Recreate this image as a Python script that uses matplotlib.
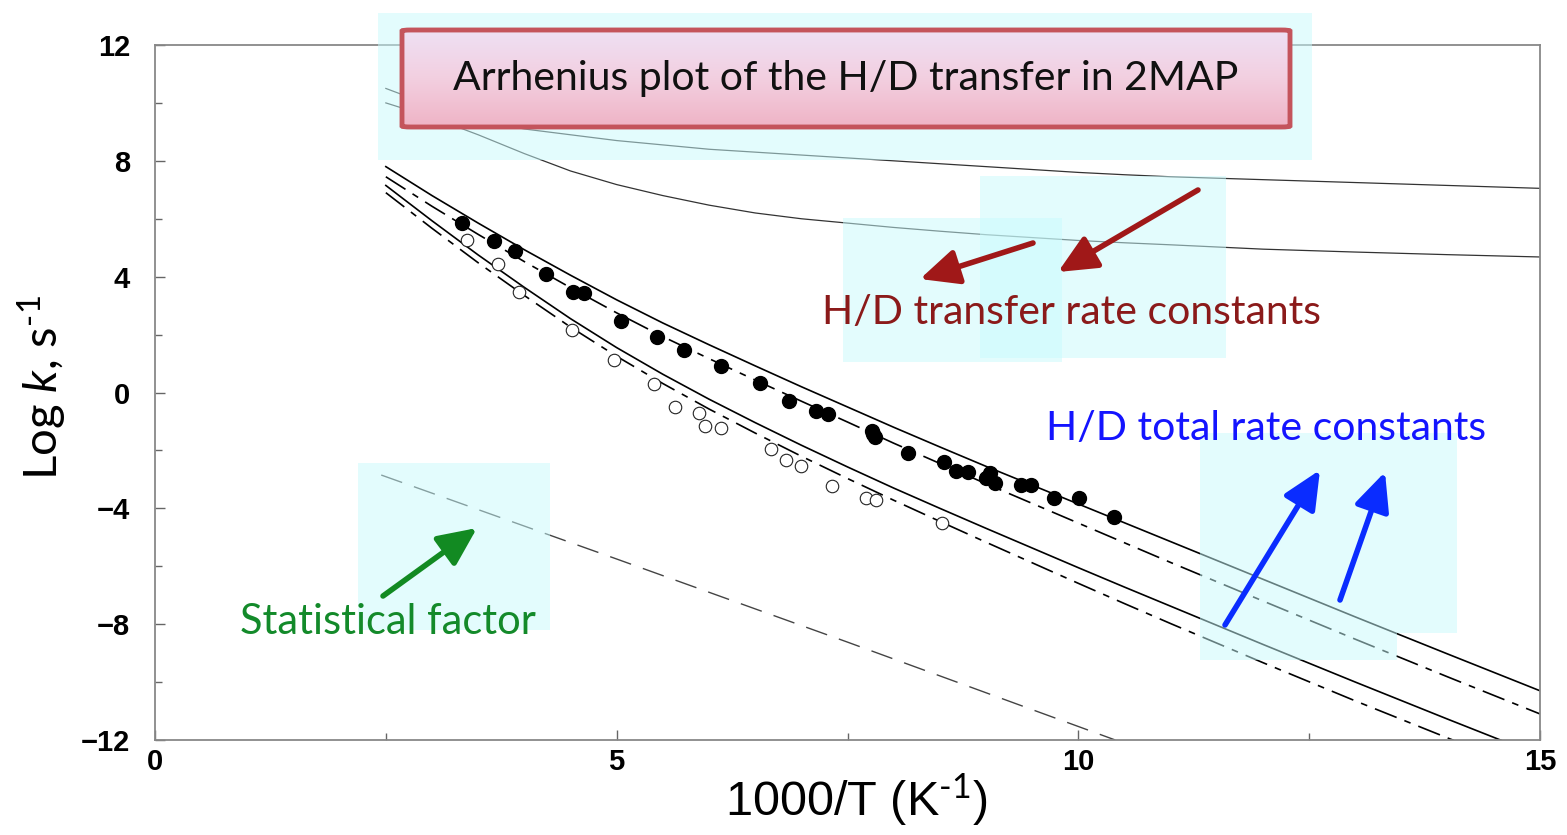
import matplotlib
matplotlib.use('Agg')
import numpy as np
import matplotlib.pyplot as plt
from matplotlib.patches import Rectangle, FancyBboxPatch, FancyArrowPatch
from matplotlib.colors import LinearSegmentedColormap
from matplotlib.ticker import MultipleLocator

plt.rcParams['mathtext.fontset'] = 'custom'
plt.rcParams['mathtext.rm'] = 'Lato'
plt.rcParams['mathtext.it'] = 'Lato:italic'

# x grid (1000/T) for the calculated curves
x_curve = [2.5, 3.0, 3.5, 4.0, 4.5, 5.0, 5.5, 6.0, 6.5, 7.0, 7.5, 8.0, 8.5,
           9.0, 9.5, 10.0, 10.5, 11.0, 12.0, 13.0, 14.0, 15.0]

# H/D transfer rate constants (top two curves)
transfer_h = [10.5, 9.9, 9.4, 9.1, 8.9, 8.7, 8.55, 8.4, 8.3, 8.2, 8.1, 8.0, 7.9,
              7.8, 7.7, 7.6, 7.52, 7.45, 7.35, 7.25, 7.15, 7.05]
transfer_d = [10.0, 9.5, 8.9, 8.25, 7.65, 7.18, 6.8, 6.47, 6.2, 6.0, 5.85, 5.7, 5.57,
              5.45, 5.35, 5.25, 5.17, 5.1, 4.95, 4.85, 4.76, 4.68]

# total rate constants
total_h_solid = [7.8, 6.8, 5.85, 4.93, 4.05, 3.2, 2.4, 1.65, 0.92, 0.2, -0.5, -1.2, -1.88,
                 -2.55, -3.2, -3.85, -4.5, -5.15, -6.45, -7.75, -9.03, -10.3]
total_h_dd = [7.45, 6.43, 5.46, 4.52, 3.62, 2.75, 1.93, 1.17, 0.43, -0.3, -1.02, -1.75, -2.45,
              -3.15, -3.83, -4.51, -5.19, -5.87, -7.2, -8.52, -9.82, -11.1]
total_d_solid = [7.15, 5.93, 4.75, 3.63, 2.55, 1.55, 0.63, -0.23, -1.04, -1.82, -2.57, -3.3, -4.0,
                 -4.69, -5.37, -6.05, -6.72, -7.38, -8.7, -10.0, -11.28, -12.54]
total_d_dd = [6.9, 5.67, 4.48, 3.35, 2.26, 1.25, 0.31, -0.57, -1.4, -2.2, -2.97, -3.72, -4.45,
              -5.17, -5.88, -6.59, -7.29, -7.98, -9.33, -10.65, -11.93, -13.19]

# statistical factor
x_stat = [2.45, 5.0, 7.5, 10.4]
y_stat = [-2.85, -5.75, -8.62, -12.0]

# experimental points, H (filled) and D (open)
h_x = [3.32, 3.67, 3.90, 4.24, 4.53, 4.65, 5.05, 5.44, 5.73, 6.13, 6.55, 6.87, 7.16, 7.29,
       7.76, 7.80, 7.78, 8.15, 8.54, 8.68, 8.81, 9.04, 9.00, 9.10, 9.38, 9.49, 9.74, 10.01, 10.39]
h_y = [5.85, 5.23, 4.89, 4.09, 3.47, 3.44, 2.47, 1.92, 1.47, 0.92, 0.33, -0.29, -0.64, -0.74,
       -1.33, -1.54, -1.45, -2.09, -2.40, -2.71, -2.74, -2.78, -2.95, -3.12, -3.19, -3.19, -3.64, -3.64, -4.30]
d_x = [3.38, 3.71, 3.94, 4.52, 4.97, 5.40, 5.63, 5.89, 5.96, 6.13, 6.67, 6.83, 7.00, 7.33,
       7.70, 7.81, 8.52]
d_y = [5.27, 4.44, 3.47, 2.16, 1.12, 0.29, -0.50, -0.71, -1.16, -1.23, -1.95, -2.33, -2.54, -3.23,
       -3.64, -3.71, -4.50]

# tick values and labels
x_ticks = [0, 5, 10, 15]
x_ticklabels = ['0', '5', '10', '15']
y_ticks = [-12, -8, -4, 0, 4, 8, 12]
y_ticklabels = ['\u221212', '\u22128', '\u22124', '0', '4', '8', '12']

W, H = 1567, 835
fig = plt.figure(figsize=(W / 100, H / 100), dpi=100)
ax = fig.add_axes([155 / W, 1 - 740 / H, (1540 - 155) / W, (740 - 45) / H])


def fp(x, y):
    # pixel position -> figure fraction
    return (x / W, 1 - y / H)


ax.plot(x_curve, transfer_h, color='#333333', lw=0.9)
ax.plot(x_curve, transfer_d, color='#333333', lw=0.9)
ax.plot(x_curve, total_h_solid, color='black', lw=1.2)
ax.plot(x_curve, total_h_dd, color='black', lw=1.2, dashes=(14, 5, 4, 5))
ax.plot(x_curve, total_d_solid, color='black', lw=1.2)
ax.plot(x_curve, total_d_dd, color='black', lw=1.2, dashes=(14, 5, 4, 5))
ax.plot(x_stat, y_stat, color='#444444', lw=1.0, dashes=(16, 9))

ax.plot(h_x, h_y, 'o', color='black', ms=10, zorder=5)
ax.plot(d_x, d_y, 'o', mfc='white', mec='#222222', mew=0.8, ms=9, zorder=5)

ax.set_xlim(0, 15)
ax.set_ylim(-12, 12)
tick_font = dict(fontsize=21, fontweight='bold', family='Liberation Sans')
ax.set_xticks(x_ticks, labels=x_ticklabels, **tick_font)
ax.set_yticks(y_ticks, labels=y_ticklabels, **tick_font)
ax.xaxis.set_minor_locator(MultipleLocator(2.5))
ax.yaxis.set_minor_locator(MultipleLocator(2))
ax.tick_params(which='both', direction='in', color='#666666')
ax.tick_params(which='major', length=7, width=1)
ax.tick_params(which='minor', length=5, width=1)
ax.tick_params(axis='y', pad=18)
ax.tick_params(axis='x', pad=6)
for sp in ax.spines.values():
    sp.set_color('#888888')
    sp.set_linewidth(1.3)

# axis labels
fig.text(*fp(42, 388), r'Log $\mathit{k}$, s$^{\text{-1}}$', rotation=90,
         ha='center', va='center', fontsize=34, family='Lato')
fig.text(*fp(856, 800), r'1000/T (K$^{\text{-1}}$)', ha='center', va='center',
         fontsize=35, family='Liberation Sans')

# light cyan highlight boxes
boxes = [(378, 13, 1312, 160), (980, 176, 1226, 358), (843, 218, 1062, 362),
         (358, 463, 550, 630), (1200, 433, 1457, 633), (1200, 633, 1397, 660)]
for x0, y0, x1, y1 in boxes:
    fig.add_artist(Rectangle(fp(x0, y1), (x1 - x0) / W, (y1 - y0) / H,
                             transform=fig.transFigure, facecolor='#c8fbfd',
                             edgecolor='none', alpha=0.5, zorder=3))

# title box with a soft vertical gradient
bx0, by0, bx1, by1 = 402, 30, 1290, 127
gax = fig.add_axes([bx0 / W, 1 - by1 / H, (bx1 - bx0) / W, (by1 - by0) / H], zorder=4)
grad_cmap = LinearSegmentedColormap.from_list('pinkish', ['#eee0f4', '#f3cfe0', '#efb4c6'])
gax.imshow(np.linspace(0, 1, 100).reshape(-1, 1), aspect='auto', cmap=grad_cmap,
           extent=(0, 1, 0, 1))
gax.axis('off')
gax.add_patch(FancyBboxPatch((0, 0), 1, 1, boxstyle='round,pad=0,rounding_size=0.01',
                             transform=gax.transAxes, facecolor='none',
                             edgecolor='#c4545c', lw=3.5, clip_on=False))
gax.text(0.5, 0.5, 'Arrhenius plot of the H/D transfer in 2MAP', ha='center', va='center',
         fontsize=29.5, family='Lato', color='#111111', transform=gax.transAxes)

# annotations
fig.text(*fp(1072, 312), 'H/D transfer rate constants', ha='center', va='center',
         fontsize=29.5, family='Lato', color='#8b1a1a', zorder=5)
fig.text(*fp(1266, 428), 'H/D total rate constants', ha='center', va='center',
         fontsize=29.5, family='Lato', color='#1414ff', zorder=5)
fig.text(*fp(388, 622), 'Statistical factor', ha='center', va='center',
         fontsize=30, family='Lato', color='#138a2a', zorder=5)

arrows = [((1198, 190), (1058, 272), '#a01818'),
          ((1033, 243), (920, 279), '#a01818'),
          ((1225, 625), (1320, 470), '#0a2cff'),
          ((1340, 600), (1385, 472), '#0a2cff'),
          ((383, 596), (477, 528), '#128a22')]
for tail, head, col in arrows:
    fig.add_artist(FancyArrowPatch(fp(*tail), fp(*head), transform=fig.transFigure,
                                   arrowstyle='-|>,head_length=1.3,head_width=0.6',
                                   mutation_scale=18, lw=4, color=col,
                                   shrinkA=0, shrinkB=0, zorder=6))

fig.savefig('out.png', dpi=100)
